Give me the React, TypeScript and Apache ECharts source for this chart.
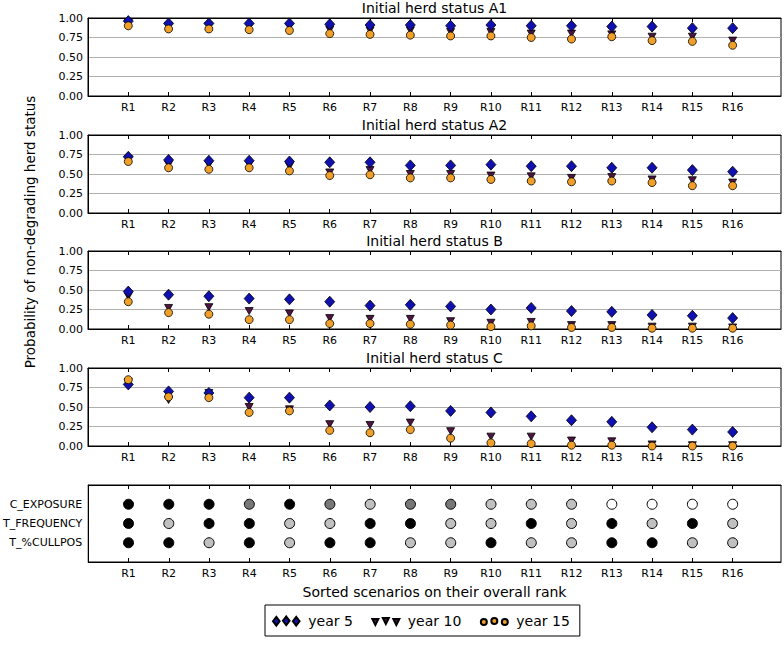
import React, { useEffect, useRef } from "react";
import * as echarts from "echarts";

const categories = ["R1","R2","R3","R4","R5","R6","R7","R8","R9","R10","R11","R12","R13","R14","R15","R16"];
const panelTitles = ["Initial herd status A1", "Initial herd status A2", "Initial herd status B", "Initial herd status C"];
const yTickLabels = ["0.00", "0.25", "0.50", "0.75", "1.00"];

const a1Year5 = [0.96,0.93,0.93,0.93,0.93,0.92,0.91,0.91,0.90,0.91,0.90,0.90,0.89,0.89,0.87,0.87];
const a1Year10 = [0.94,0.90,0.90,0.89,0.89,0.85,0.84,0.84,0.82,0.82,0.80,0.80,0.79,0.76,0.76,0.71];
const a1Year15 = [0.90,0.86,0.86,0.85,0.84,0.80,0.79,0.78,0.77,0.77,0.75,0.73,0.76,0.71,0.70,0.65];

const a2Year5 = [0.72,0.68,0.67,0.67,0.66,0.65,0.65,0.61,0.61,0.62,0.60,0.60,0.58,0.58,0.55,0.53];
const a2Year10 = [0.69,0.62,0.62,0.62,0.60,0.52,0.55,0.50,0.50,0.48,0.47,0.45,0.46,0.43,0.42,0.39];
const a2Year15 = [0.66,0.58,0.56,0.58,0.54,0.48,0.49,0.45,0.45,0.43,0.41,0.40,0.41,0.39,0.35,0.35];

const bYear5 = [0.48,0.44,0.42,0.39,0.38,0.35,0.30,0.31,0.29,0.25,0.27,0.23,0.22,0.18,0.17,0.14];
const bYear10 = [0.42,0.27,0.28,0.23,0.20,0.14,0.13,0.13,0.10,0.08,0.09,0.05,0.05,0.03,0.03,0.02];
const bYear15 = [0.35,0.21,0.19,0.12,0.12,0.07,0.07,0.06,0.05,0.03,0.04,0.02,0.02,0.01,0.01,0.01];

const cYear5 = [0.79,0.70,0.68,0.62,0.62,0.52,0.50,0.51,0.45,0.43,0.38,0.33,0.31,0.24,0.21,0.18];
const cYear10 = [0.82,0.59,0.68,0.50,0.47,0.28,0.27,0.30,0.19,0.12,0.12,0.07,0.06,0.02,0.01,0.01];
const cYear15 = [0.85,0.63,0.62,0.43,0.45,0.20,0.17,0.21,0.10,0.04,0.03,0.01,0.01,0.00,0.00,0.00];

const matrixRows = ["T_%CULLPOS", "T_FREQUENCY", "C_EXPOSURE"]; // bottom to top
// level: 3 = black, 2 = dark grey, 1 = light grey, 0 = white
const cExposure = [3,3,3,2,3,2,1,2,2,1,1,1,0,0,0,0];
const tFrequency = [3,1,3,3,1,1,3,3,1,1,3,1,3,1,3,1];
const tCullpos = [3,3,1,3,1,3,3,1,1,3,1,1,3,3,1,1];

const seriesNames = ["year 5", "year 10", "year 15"];

const FONT = "DejaVu Sans";
const COLORS = ["#1010b0", "#4e1443", "#f0a028"];
const LEVEL_COLORS = ["#ffffff", "#c0c0c0", "#777777", "#000000"];

const GRID_LEFT = 88;
const GRID_WIDTH = 693;
const PANEL_TOPS = [18, 135, 251, 368];
const PANEL_H = 78;
const MATRIX_TOP = 485;
const MATRIX_H = 77;

export default function App() {
  const ref = useRef<HTMLDivElement>(null);
  useEffect(() => {
    document.body.style.margin = "0";
    if (!ref.current) return;
    const chart = echarts.init(ref.current, undefined, { renderer: "svg" });

    const panelData = [
      [a1Year5, a1Year10, a1Year15],
      [a2Year5, a2Year10, a2Year15],
      [bYear5, bYear10, bYear15],
      [cYear5, cYear10, cYear15],
    ];
    const xPositions = categories.map((_, i) => i + 1);

    const grids: any[] = [];
    const xAxes: any[] = [];
    const yAxes: any[] = [];
    const series: any[] = [];

    const makeX = (gi: number, showLabel: boolean, position: string) => ({
      type: "value",
      gridIndex: gi,
      position,
      min: 0,
      max: 17.2,
      axisLine: { show: true, onZero: false, lineStyle: { color: "#000", width: 1 } },
      axisTick: { show: true, inside: true, length: 4, customValues: xPositions, lineStyle: { color: "#000" } },
      axisLabel: {
        show: showLabel,
        customValues: xPositions,
        formatter: (v: number) => categories[Math.round(v) - 1] ?? "",
        color: "#000",
        fontFamily: FONT,
        fontSize: 11,
        margin: 6,
      },
      splitLine: { show: false },
    });

    PANEL_TOPS.forEach((top, gi) => {
      grids.push({
        left: GRID_LEFT, top, width: GRID_WIDTH, height: PANEL_H,
        show: true, borderColor: "#000", borderWidth: 1, backgroundColor: "#fff",
      });
      xAxes.push(makeX(gi, true, "bottom"));
      xAxes.push(makeX(gi, false, "top"));
      yAxes.push({
        type: "value",
        gridIndex: gi,
        min: 0,
        max: 1,
        interval: 0.25,
        axisLine: { show: true, onZero: false, lineStyle: { color: "#000" } },
        axisTick: { show: false },
        axisLabel: {
          color: "#000", fontFamily: FONT, fontSize: 11, margin: 5,
          formatter: (v: number) => yTickLabels[Math.round(v * 4)] ?? "",
        },
        splitLine: {
          show: true,
          lineStyle: { color: ["transparent", "#b0b0b0", "#b0b0b0", "#b0b0b0", "transparent"], width: 1 },
        },
      });
      const order = [1, 0, 2];
      order.forEach((si) => {
        const vals = panelData[gi][si];
        series.push({
          type: "scatter",
          name: seriesNames[si],
          xAxisIndex: gi * 2,
          yAxisIndex: gi,
          z: 3 + order.indexOf(si),
          symbol: si === 0 ? "diamond" : si === 1 ? "triangle" : "circle",
          symbolSize: si === 0 ? [10, 11] : si === 1 ? [8, 7] : 8,
          symbolRotate: si === 1 ? 180 : 0,
          itemStyle: { color: COLORS[si], borderColor: "#000", borderWidth: 0.8, opacity: 1 },
          emphasis: { disabled: true },
          data: vals.map((v, i) => [xPositions[i], v]),
        });
      });
    });

    // matrix panel
    const mgi = PANEL_TOPS.length;
    grids.push({
      left: GRID_LEFT, top: MATRIX_TOP, width: GRID_WIDTH, height: MATRIX_H,
      show: true, borderColor: "#000", borderWidth: 1, backgroundColor: "#fff",
    });
    xAxes.push(makeX(mgi, true, "bottom"));
    xAxes.push(makeX(mgi, false, "top"));
    yAxes.push({
      type: "value",
      gridIndex: mgi,
      min: -1,
      max: 3,
      axisLine: { show: true, onZero: false, lineStyle: { color: "#000" } },
      axisTick: { show: false },
      splitLine: { show: false },
      axisLabel: {
        customValues: [0, 1, 2],
        formatter: (v: number) => matrixRows[Math.round(v)] ?? "",
        color: "#000", fontFamily: FONT, fontSize: 11, margin: 6,
      },
    });
    const matrixSeriesData: number[][] = [];
    [tCullpos, tFrequency, cExposure].forEach((row, r) => {
      row.forEach((lvl, i) => matrixSeriesData.push([xPositions[i], r, lvl]));
    });
    series.push({
      type: "scatter",
      name: "matrix",
      xAxisIndex: mgi * 2,
      yAxisIndex: mgi,
      symbol: "circle",
      symbolSize: 10,
      emphasis: { disabled: true },
      itemStyle: {
        color: (p: any) => LEVEL_COLORS[p.data[2]],
        borderColor: "#000",
        borderWidth: 1,
        opacity: 1,
      },
      data: matrixSeriesData,
    });

    const diamonds = "path://M3.5 0.5 L7 5 L3.5 9.5 L0 5 Z M14 0 L17.5 4.5 L14 9 L10.5 4.5 Z M24.5 0.5 L28 5 L24.5 9.5 L21 5 Z";
    const triangles = "path://M0.5 2.5 L6.5 2.5 L3.5 8.5 Z M11 1.5 L17 1.5 L14 7.5 Z M21.5 2.5 L27.5 2.5 L24.5 8.5 Z M0 0 L0.01 0 Z M28 9 L28 9.01 Z";
    const circles = "path://M0.5 5.5 A3 3 0 1 0 6.5 5.5 A3 3 0 1 0 0.5 5.5 Z M11 4.5 A3 3 0 1 0 17 4.5 A3 3 0 1 0 11 4.5 Z M21.5 5.5 A3 3 0 1 0 27.5 5.5 A3 3 0 1 0 21.5 5.5 Z M0 0 L0.01 0 Z M28 9 L28 9.01 Z";

    const centerX = GRID_LEFT + GRID_WIDTH / 2;
    const graphics: any[] = PANEL_TOPS.map((top, gi) => ({
      type: "text",
      x: centerX,
      y: top - 10,
      style: {
        text: panelTitles[gi],
        fill: "#000",
        font: `14px "${FONT}"`,
        textAlign: "center",
        textVerticalAlign: "middle",
      },
    }));
    graphics.push({
      type: "text",
      x: 30,
      y: (PANEL_TOPS[0] + PANEL_TOPS[3] + PANEL_H) / 2,
      rotation: Math.PI / 2,
      style: {
        text: "Probability of non-degrading herd status",
        fill: "#000",
        font: `13.5px "${FONT}"`,
        textAlign: "center",
        textVerticalAlign: "middle",
      },
    });
    graphics.push({
      type: "text",
      x: centerX,
      y: 592,
      style: {
        text: "Sorted scenarios on their overall rank",
        fill: "#000",
        font: `14px "${FONT}"`,
        textAlign: "center",
        textVerticalAlign: "middle",
      },
    });

    chart.setOption({
      animation: false,
      backgroundColor: "#fff",
      textStyle: { fontFamily: FONT },
      grid: grids,
      xAxis: xAxes,
      yAxis: yAxes,
      series,
      graphic: graphics,
      legend: {
        left: 265,
        top: 605,
        orient: "horizontal",
        borderColor: "#000",
        borderWidth: 1,
        padding: [9, 10, 8, 7],
        itemGap: 18,
        itemWidth: 28,
        itemHeight: 9,
        selectedMode: false,
        textStyle: { color: "#000", fontFamily: FONT, fontSize: 14, padding: [0, 0, 0, 3] },
        data: [
          { name: "year 5", icon: diamonds },
          { name: "year 10", icon: triangles },
          { name: "year 15", icon: circles },
        ],
      },
    });
    return () => chart.dispose();
  }, []);
  return <div ref={ref} style={{ width: 784, height: 650 }} />;
}
